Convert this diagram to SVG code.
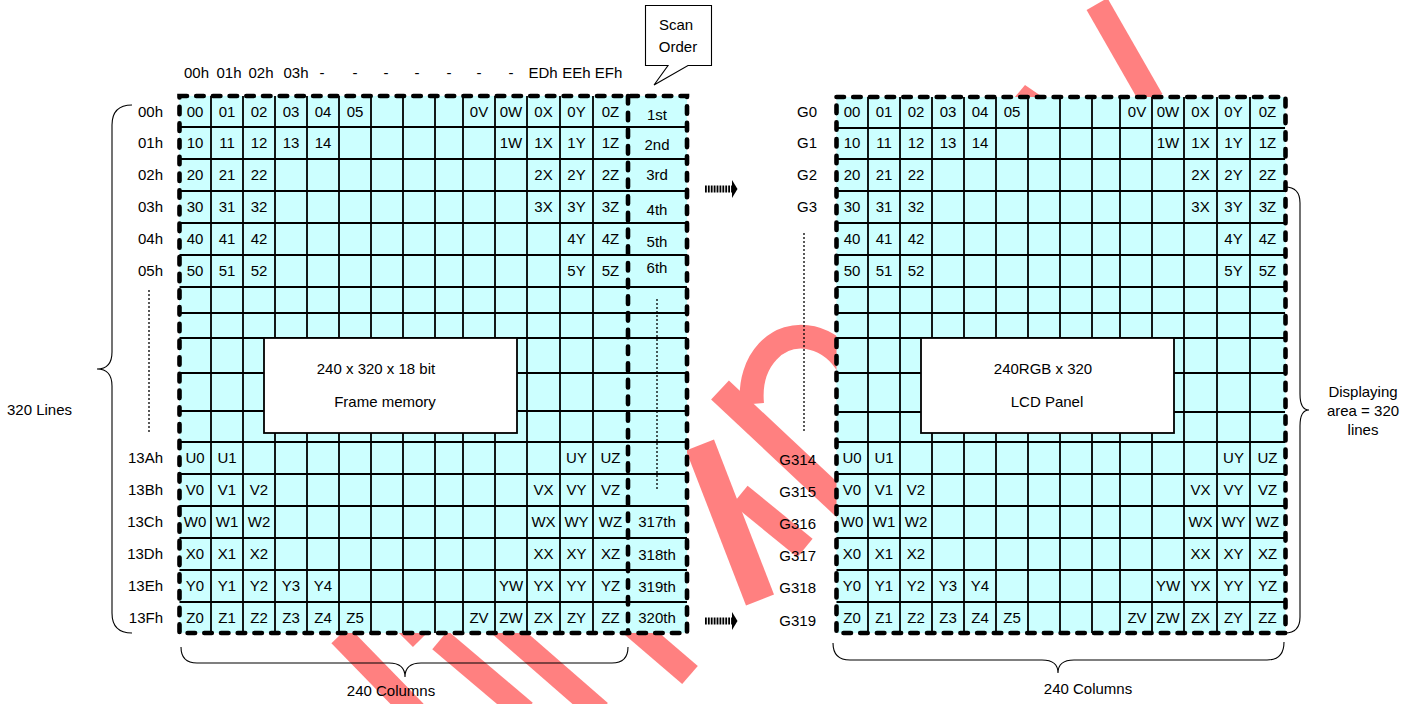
<svg xmlns="http://www.w3.org/2000/svg" width="1409" height="704" viewBox="0 0 1409 704">
<style>
text{font-family:"Liberation Sans",Arial,sans-serif;font-size:15px;fill:#000}
.c{text-anchor:middle}
.r{text-anchor:end}
.grid{fill:none;stroke:#000;stroke-width:1.8}
.cell{fill:#ccffff}
.box{fill:#fff;stroke:#000;stroke-width:1.8}
.dash{fill:none;stroke:#000;stroke-width:4.6;stroke-dasharray:7.5 9.2;stroke-linecap:round}
.thin{fill:none;stroke:#000;stroke-width:1.1}
.dot{fill:none;stroke:#000;stroke-width:1.3;stroke-dasharray:2 2}
.wm{fill:none;stroke:#ff8080;stroke-width:24}
</style>
<rect width="1409" height="704" fill="#fff"/>

<g id="watermark">
<line class="wm" x1="1097" y1="4" x2="1152" y2="100"/>
<polygon points="1014,98 1025,85 1044,98" fill="#ff8080"/>
<path class="wm" d="M752,404 C748,360 778,330 812,338 C828,342 840,352 848,366"/>
<line class="wm" x1="720" y1="390" x2="850" y2="512" style="stroke-width:26"/>
<line class="wm" x1="700" y1="445" x2="760" y2="600" style="stroke-width:30"/>
<line class="wm" x1="740" y1="495" x2="805" y2="548"/>
<line class="wm" x1="620" y1="615" x2="690" y2="675"/>
<line class="wm" x1="385" y1="605" x2="420" y2="640" style="stroke-width:20"/>
<line class="wm" x1="340" y1="635" x2="415" y2="712"/>
<line class="wm" x1="440" y1="640" x2="525" y2="712"/>
<line class="wm" x1="500" y1="625" x2="600" y2="712"/>
</g>

<g id="frame-memory">
<rect class="cell" x="179.5" y="96" width="507.5" height="537"/>
<path class="grid" d="M211,96V633M243,96V633M275,96V633M307,96V633M339,96V633M371,96V633M403,96V633M435,96V633M463,96V633M495,96V633M527,96V633M560,96V633M593,96V633M179.5,127H687M179.5,159H687M179.5,191H687M179.5,223H687M179.5,255H687M179.5,287H687M179.5,313H687M179.5,338H687M179.5,373H687M179.5,411H687M179.5,442H687M179.5,474H687M179.5,506H687M179.5,538H687M179.5,570H687M179.5,602H687"/>
<rect class="box" x="264" y="338" width="253" height="95"/>
<text class="c" x="376" y="374">240 x 320 x 18 bit</text>
<text class="c" x="385" y="407">Frame memory</text>
<g class="c">
<text x="195" y="117">00</text><text x="227" y="117">01</text><text x="259" y="117">02</text><text x="291" y="117">03</text><text x="323" y="117">04</text><text x="355" y="117">05</text><text x="479" y="117">0V</text><text x="511" y="117">0W</text><text x="543.5" y="117">0X</text><text x="576.5" y="117">0Y</text><text x="610.5" y="117">0Z</text>
<text x="195" y="148">10</text><text x="227" y="148">11</text><text x="259" y="148">12</text><text x="291" y="148">13</text><text x="323" y="148">14</text><text x="511" y="148">1W</text><text x="543.5" y="148">1X</text><text x="576.5" y="148">1Y</text><text x="610.5" y="148">1Z</text>
<text x="195" y="180">20</text><text x="227" y="180">21</text><text x="259" y="180">22</text><text x="543.5" y="180">2X</text><text x="576.5" y="180">2Y</text><text x="610.5" y="180">2Z</text>
<text x="195" y="212">30</text><text x="227" y="212">31</text><text x="259" y="212">32</text><text x="543.5" y="212">3X</text><text x="576.5" y="212">3Y</text><text x="610.5" y="212">3Z</text>
<text x="195" y="244">40</text><text x="227" y="244">41</text><text x="259" y="244">42</text><text x="576.5" y="244">4Y</text><text x="610.5" y="244">4Z</text>
<text x="195" y="276">50</text><text x="227" y="276">51</text><text x="259" y="276">52</text><text x="576.5" y="276">5Y</text><text x="610.5" y="276">5Z</text>
<text x="195" y="463">U0</text><text x="227" y="463">U1</text><text x="576.5" y="463">UY</text><text x="610.5" y="463">UZ</text>
<text x="195" y="495">V0</text><text x="227" y="495">V1</text><text x="259" y="495">V2</text><text x="543.5" y="495">VX</text><text x="576.5" y="495">VY</text><text x="610.5" y="495">VZ</text>
<text x="195" y="527">W0</text><text x="227" y="527">W1</text><text x="259" y="527">W2</text><text x="543.5" y="527">WX</text><text x="576.5" y="527">WY</text><text x="610.5" y="527">WZ</text>
<text x="195" y="559">X0</text><text x="227" y="559">X1</text><text x="259" y="559">X2</text><text x="543.5" y="559">XX</text><text x="576.5" y="559">XY</text><text x="610.5" y="559">XZ</text>
<text x="195" y="591">Y0</text><text x="227" y="591">Y1</text><text x="259" y="591">Y2</text><text x="291" y="591">Y3</text><text x="323" y="591">Y4</text><text x="511" y="591">YW</text><text x="543.5" y="591">YX</text><text x="576.5" y="591">YY</text><text x="610.5" y="591">YZ</text>
<text x="195" y="623">Z0</text><text x="227" y="623">Z1</text><text x="259" y="623">Z2</text><text x="291" y="623">Z3</text><text x="323" y="623">Z4</text><text x="355" y="623">Z5</text><text x="479" y="623">ZV</text><text x="511" y="623">ZW</text><text x="543.5" y="623">ZX</text><text x="576.5" y="623">ZY</text><text x="610.5" y="623">ZZ</text>
</g>
<g class="c">
<text x="657" y="120">1st</text><text x="657" y="150">2nd</text><text x="657" y="180">3rd</text><text x="657" y="215">4th</text><text x="657" y="247">5th</text><text x="657" y="273">6th</text>
<text x="657" y="527">317th</text><text x="657" y="560">318th</text><text x="657" y="592">319th</text><text x="657" y="623">320th</text>
</g>
<line class="dot" x1="657" y1="299" x2="657" y2="491"/>
<line class="dash" x1="628" y1="96" x2="628" y2="633"/>
<rect class="dash" x="179.5" y="96" width="507.5" height="537"/>
<g class="c">
<text x="196.5" y="78">00h</text><text x="229" y="78">01h</text><text x="261" y="78">02h</text><text x="296" y="78">03h</text>
<text x="322" y="78">-</text><text x="355" y="78">-</text><text x="386" y="78">-</text><text x="417" y="78">-</text><text x="449" y="78">-</text><text x="479" y="78">-</text><text x="511" y="78">-</text>
<text x="543" y="78">EDh</text><text x="576.5" y="78">EEh</text><text x="608.5" y="78">EFh</text>
</g>
<g class="r">
<text x="163" y="117">00h</text><text x="163" y="148">01h</text><text x="163" y="180">02h</text><text x="163" y="212">03h</text><text x="163" y="244">04h</text><text x="163" y="276">05h</text>
<text x="163" y="463">13Ah</text><text x="163" y="495">13Bh</text><text x="163" y="527">13Ch</text><text x="163" y="559">13Dh</text><text x="163" y="591">13Eh</text><text x="163" y="623">13Fh</text>
</g>
<line class="dot" x1="149" y1="290" x2="149" y2="433"/>
</g>

<g id="scan-order-callout">
<path d="M645.5,5.5H711.5V65.5H688L654,85L668,65.5H645.5Z" fill="#fff" stroke="#000" stroke-width="1.1"/>
<text class="c" x="676" y="30">Scan</text>
<text class="c" x="678" y="52">Order</text>
</g>

<g id="lcd-panel">
<g transform="translate(657,1)">
<rect class="cell" x="179.5" y="96" width="449" height="536"/>
<path class="grid" d="M211,96V632M243,96V632M275,96V632M307,96V632M339,96V632M371,96V632M403,96V632M435,96V632M463,96V632M495,96V632M527,96V632M560,96V632M593,96V632M179.5,127H628M179.5,158H628M179.5,190H628M179.5,222H628M179.5,254H628M179.5,286H628M179.5,312H628M179.5,337H628M179.5,372H628M179.5,411H628M179.5,441H628M179.5,473H628M179.5,505H628M179.5,537H628M179.5,569H628M179.5,601H628"/>
<rect class="box" x="264" y="337" width="253" height="95"/>
</g>
<text class="c" x="1043" y="374">240RGB x 320</text>
<text class="c" x="1047" y="407">LCD Panel</text>
<g class="c">
<text x="852" y="117">00</text><text x="884" y="117">01</text><text x="916" y="117">02</text><text x="948" y="117">03</text><text x="980" y="117">04</text><text x="1012" y="117">05</text><text x="1137" y="117">0V</text><text x="1168" y="117">0W</text><text x="1200.5" y="117">0X</text><text x="1233.5" y="117">0Y</text><text x="1267.5" y="117">0Z</text>
<text x="852" y="148">10</text><text x="884" y="148">11</text><text x="916" y="148">12</text><text x="948" y="148">13</text><text x="980" y="148">14</text><text x="1168" y="148">1W</text><text x="1200.5" y="148">1X</text><text x="1233.5" y="148">1Y</text><text x="1267.5" y="148">1Z</text>
<text x="852" y="180">20</text><text x="884" y="180">21</text><text x="916" y="180">22</text><text x="1200.5" y="180">2X</text><text x="1233.5" y="180">2Y</text><text x="1267.5" y="180">2Z</text>
<text x="852" y="212">30</text><text x="884" y="212">31</text><text x="916" y="212">32</text><text x="1200.5" y="212">3X</text><text x="1233.5" y="212">3Y</text><text x="1267.5" y="212">3Z</text>
<text x="852" y="244">40</text><text x="884" y="244">41</text><text x="916" y="244">42</text><text x="1233.5" y="244">4Y</text><text x="1267.5" y="244">4Z</text>
<text x="852" y="276">50</text><text x="884" y="276">51</text><text x="916" y="276">52</text><text x="1233.5" y="276">5Y</text><text x="1267.5" y="276">5Z</text>
<text x="852" y="463">U0</text><text x="884" y="463">U1</text><text x="1233.5" y="463">UY</text><text x="1267.5" y="463">UZ</text>
<text x="852" y="495">V0</text><text x="884" y="495">V1</text><text x="916" y="495">V2</text><text x="1200.5" y="495">VX</text><text x="1233.5" y="495">VY</text><text x="1267.5" y="495">VZ</text>
<text x="852" y="527">W0</text><text x="884" y="527">W1</text><text x="916" y="527">W2</text><text x="1200.5" y="527">WX</text><text x="1233.5" y="527">WY</text><text x="1267.5" y="527">WZ</text>
<text x="852" y="559">X0</text><text x="884" y="559">X1</text><text x="916" y="559">X2</text><text x="1200.5" y="559">XX</text><text x="1233.5" y="559">XY</text><text x="1267.5" y="559">XZ</text>
<text x="852" y="591">Y0</text><text x="884" y="591">Y1</text><text x="916" y="591">Y2</text><text x="948" y="591">Y3</text><text x="980" y="591">Y4</text><text x="1168" y="591">YW</text><text x="1200.5" y="591">YX</text><text x="1233.5" y="591">YY</text><text x="1267.5" y="591">YZ</text>
<text x="852" y="623">Z0</text><text x="884" y="623">Z1</text><text x="916" y="623">Z2</text><text x="948" y="623">Z3</text><text x="980" y="623">Z4</text><text x="1012" y="623">Z5</text><text x="1137" y="623">ZV</text><text x="1168" y="623">ZW</text><text x="1200.5" y="623">ZX</text><text x="1233.5" y="623">ZY</text><text x="1267.5" y="623">ZZ</text>
</g>
<rect class="dash" x="836.5" y="97" width="449" height="536"/>
<g class="r">
<text x="817" y="117">G0</text><text x="817" y="148">G1</text><text x="817" y="180">G2</text><text x="817" y="212">G3</text>
<text x="816" y="465">G314</text><text x="816" y="497">G315</text><text x="816" y="529">G316</text><text x="816" y="561">G317</text><text x="816" y="593">G318</text><text x="816" y="626">G319</text>
</g>
<line class="dot" x1="804" y1="233" x2="804" y2="433"/>
</g>

<g id="connectors">
<line x1="705" y1="189" x2="733" y2="189" stroke="#000" stroke-width="7" stroke-dasharray="1.8 1.1"/>
<polygon points="732,180 737.5,189 732,198" fill="#000"/>
<line x1="705" y1="621" x2="733" y2="621" stroke="#000" stroke-width="7" stroke-dasharray="1.8 1.1"/>
<polygon points="732,612 737.5,621 732,630" fill="#000"/>
</g>

<g id="annotations">
<path class="thin" d="M132,105Q112,105 112,125L112,352Q112,369 97,369Q112,369 112,386L112,613Q112,633 132,633"/>
<text x="7" y="415">320 Lines</text>
<path class="thin" d="M181,647Q181,663 197,663L389,663Q405,663 405,677Q405,663 421,663L612,663Q628,663 628,647"/>
<text class="c" x="391" y="696">240 Columns</text>
<path class="thin" d="M833,643Q833,660 850,660L1042,660Q1058,660 1058,673Q1058,660 1074,660L1267,660Q1284,660 1284,642"/>
<text class="c" x="1088" y="694">240 Columns</text>
<path class="thin" d="M1285,187Q1300,187 1300,203L1300,394Q1300,410 1309,410Q1300,410 1300,426L1300,617Q1300,633 1285,633"/>
<text class="c" x="1363" y="397">Displaying</text>
<text class="c" x="1363" y="416">area = 320</text>
<text class="c" x="1363" y="435">lines</text>
</g>
</svg>
